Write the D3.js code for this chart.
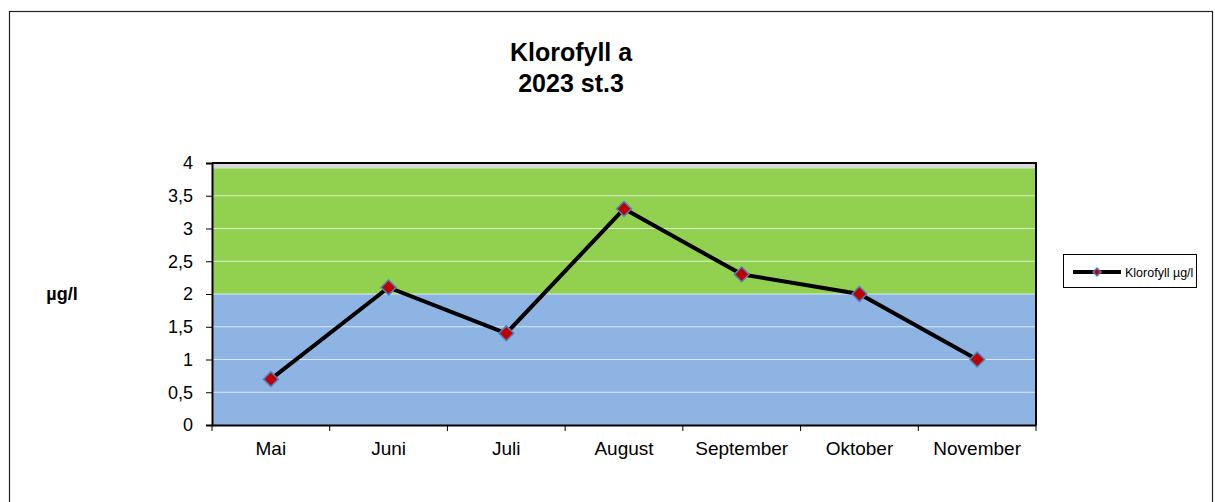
<!DOCTYPE html>
<html lang="en">
<head>
    <meta charset="UTF-8">
    <title>Klorofyll a</title>
    <script src="https://d3js.org/d3.v7.min.js"></script>
    <style>
        body { margin: 0; background: #fff; }
        text { font-family: "Liberation Sans", Arial, sans-serif; }
    </style>
</head>
<body>
    <script>
        var months = ["Mai", "Juni", "Juli", "August", "September", "Oktober", "November"];
        var klorofyll = [0.7, 2.1, 1.4, 3.3, 2.3, 2.0, 1.0];
        var yTicks = [0, 0.5, 1, 1.5, 2, 2.5, 3, 3.5, 4];
        var bands = [
            { from: 0, to: 2, color: "#8db4e2" },
            { from: 2, to: 3.92, color: "#92d050" },
            { from: 3.92, to: 4, color: "#d9d9d9" }
        ];

        var w = 1215, h = 502;
        var plot = { left: 212, right: 1036, top: 163, bottom: 425 };

        var svg = d3.select("body").append("svg")
            .attr("width", w)
            .attr("height", h);

        // outer frame
        svg.append("rect")
            .attr("x", 9.5).attr("y", 11.5)
            .attr("width", 1203).attr("height", 500)
            .attr("fill", "#fff")
            .attr("stroke", "#222").attr("stroke-width", 1.2);

        var x = d3.scaleBand().domain(months).range([plot.left, plot.right]);
        var y = d3.scaleLinear().domain([0, 4]).range([plot.bottom, plot.top]);

        // background bands
        svg.selectAll("rect.band").data(bands).enter().append("rect")
            .attr("class", "band")
            .attr("x", plot.left)
            .attr("y", d => y(d.to))
            .attr("width", plot.right - plot.left)
            .attr("height", d => y(d.from) - y(d.to))
            .attr("fill", d => d.color);

        // gridlines
        svg.selectAll("line.grid").data(yTicks.slice(1, -1)).enter().append("line")
            .attr("class", "grid")
            .attr("x1", plot.left).attr("x2", plot.right)
            .attr("y1", d => y(d)).attr("y2", d => y(d))
            .attr("stroke", "#fff").attr("stroke-width", 1)
            .attr("opacity", 0.7);

        // top/right border
        svg.append("path")
            .attr("d", "M" + plot.left + "," + plot.top + "H" + plot.right + "V" + plot.bottom)
            .attr("fill", "none").attr("stroke", "#000").attr("stroke-width", 2);

        // y axis
        var yAxis = svg.append("g")
            .attr("transform", "translate(" + plot.left + ",0)")
            .call(d3.axisLeft(y).tickValues(yTicks).tickSize(6).tickPadding(13)
                .tickFormat(d => String(d).replace(".", ",")));
        yAxis.select(".domain").attr("stroke", "#000").attr("stroke-width", 2);
        yAxis.selectAll("text").attr("font-size", 18).attr("fill", "#000");

        // x axis with ticks on category boundaries
        var xAxis = svg.append("g")
            .attr("transform", "translate(0," + plot.bottom + ")")
            .call(d3.axisBottom(x).tickSize(0).tickPadding(17));
        xAxis.select(".domain").attr("stroke", "#000").attr("stroke-width", 2);
        xAxis.selectAll("text").attr("font-size", 19).attr("fill", "#000");
        var bounds = months.map(m => x(m)).concat([plot.right]);
        xAxis.selectAll("line.bound").data(bounds).enter().append("line")
            .attr("class", "bound")
            .attr("x1", d => d).attr("x2", d => d)
            .attr("y1", 0).attr("y2", 6)
            .attr("stroke", "#000");

        // series line
        var line = d3.line()
            .x((d, i) => x(months[i]) + x.bandwidth() / 2)
            .y(d => y(d));
        svg.append("path")
            .datum(klorofyll)
            .attr("d", line)
            .attr("fill", "none")
            .attr("stroke", "#000")
            .attr("stroke-width", 4);

        var diamond = d3.symbol().type(d3.symbolDiamond2).size(140);
        svg.selectAll("path.marker").data(klorofyll).enter().append("path")
            .attr("class", "marker")
            .attr("d", diamond)
            .attr("transform", (d, i) => "translate(" + (x(months[i]) + x.bandwidth() / 2) + "," + y(d) + ")")
            .attr("fill", "#c00000")
            .attr("stroke", "#4f81bd")
            .attr("stroke-width", 1.5);

        // titles
        svg.append("text")
            .attr("x", 571).attr("y", 61)
            .attr("text-anchor", "middle")
            .attr("font-size", 25).attr("font-weight", "bold")
            .text("Klorofyll a");
        svg.append("text")
            .attr("x", 571).attr("y", 92)
            .attr("text-anchor", "middle")
            .attr("font-size", 25).attr("font-weight", "bold")
            .text("2023 st.3");

        svg.append("text")
            .attr("x", 62).attr("y", 300)
            .attr("text-anchor", "middle")
            .attr("font-size", 18).attr("font-weight", "bold")
            .text("µg/l");

        // legend
        var lg = svg.append("g").attr("transform", "translate(1063,254)");
        lg.append("rect")
            .attr("x", 0.5).attr("y", 0.5)
            .attr("width", 133).attr("height", 33)
            .attr("fill", "#fff").attr("stroke", "#000");
        lg.append("line")
            .attr("x1", 10).attr("x2", 58)
            .attr("y1", 18).attr("y2", 18)
            .attr("stroke", "#000").attr("stroke-width", 4);
        lg.append("path")
            .attr("d", d3.symbol().type(d3.symbolDiamond2).size(40))
            .attr("transform", "translate(34,18)")
            .attr("fill", "#c00000")
            .attr("stroke", "#4f81bd")
            .attr("stroke-width", 1.5);
        lg.append("text")
            .attr("x", 62).attr("y", 22.5)
            .attr("font-size", 12.5)
            .text("Klorofyll µg/l");
    </script>
</body>
</html>
